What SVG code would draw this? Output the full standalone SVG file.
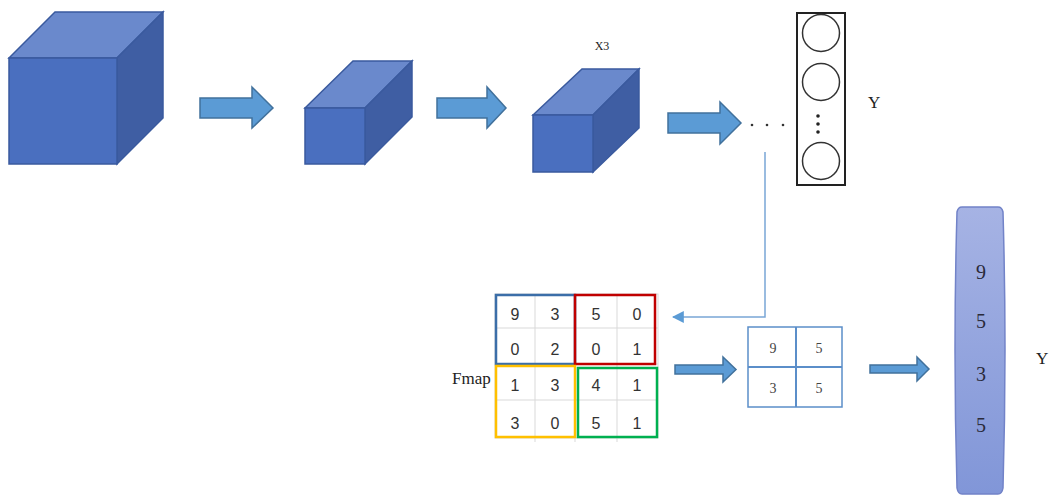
<svg xmlns="http://www.w3.org/2000/svg" width="1051" height="496" viewBox="0 0 1051 496">
<defs>
<style>
.front{fill:#4a6fbf;stroke:#3a5a9e;stroke-width:1.5}
.top{fill:#6a89cc;stroke:#3a5a9e;stroke-width:1.5}
.side{fill:#3f5ea3;stroke:#3a5a9e;stroke-width:1.5}
.arrow{fill:#5b9bd5;stroke:#41719c;stroke-width:1.5}
.serif{font-family:"Liberation Serif","Times New Roman",serif;fill:#222}
.num{font-family:"Liberation Sans",Arial,sans-serif;font-size:16px;fill:#333;text-anchor:middle}
.grid{stroke:#d9d9d9;stroke-width:1;fill:none}
.small{font-family:"Liberation Serif",serif;font-size:14px;fill:#444;text-anchor:middle}
.pillnum{font-family:"Liberation Serif",serif;font-size:20px;fill:#2a2a3a;text-anchor:middle}
</style>
<linearGradient id="pillg" x1="0" y1="0" x2="0" y2="1">
<stop offset="0" stop-color="#a6b3e4"/>
<stop offset="1" stop-color="#8196d8"/>
</linearGradient>
<marker id="ah" viewBox="0 0 10 10" refX="9" refY="5" markerWidth="12" markerHeight="12" markerUnits="userSpaceOnUse" orient="auto">
<path d="M0,0 L10,5 L0,10 z" fill="#5b9bd5"/>
</marker>
</defs>

<g id="cube1">
<polygon class="top" points="9,58 55,12 163,12 117,58"/>
<polygon class="side" points="117,58 163,12 163,118 117,164"/>
<rect class="front" x="9" y="58" width="108" height="106"/>
</g>

<g id="cube2">
<polygon class="top" points="305,108 353,61 412,61 365,108"/>
<polygon class="side" points="365,108 412,61 412,117 365,164"/>
<rect class="front" x="305" y="108" width="60" height="56"/>
</g>

<g id="cube3">
<polygon class="top" points="533,115 582,69 639,69 593,115"/>
<polygon class="side" points="593,115 639,69 639,128 593,172"/>
<rect class="front" x="533" y="115" width="60" height="57"/>
<text class="serif" x="602" y="50" font-size="12" text-anchor="middle">X3</text>
</g>

<g id="output-layer">
<rect x="797" y="13" width="48" height="172" fill="#fff" stroke="#222" stroke-width="2"/>
<circle cx="821" cy="33" r="18.5" fill="#fff" stroke="#333" stroke-width="1.5"/>
<circle cx="821" cy="82" r="18.5" fill="#fff" stroke="#333" stroke-width="1.5"/>
<circle cx="821" cy="161" r="18.5" fill="#fff" stroke="#333" stroke-width="1.5"/>
<circle cx="818" cy="116" r="1.8" fill="#222"/>
<circle cx="818" cy="124" r="1.8" fill="#222"/>
<circle cx="818" cy="132" r="1.8" fill="#222"/>
<text class="serif" x="868" y="108" font-size="17">Y</text>
</g>

<g id="ellipsis">
<circle cx="752" cy="125" r="1.3" fill="#333"/>
<circle cx="767" cy="125" r="1.3" fill="#333"/>
<circle cx="783" cy="125" r="1.3" fill="#333"/>
</g>

<g id="fmap">
<text class="serif" x="452" y="384" font-size="17">Fmap</text>
<g class="grid">
<rect x="495" y="294" width="163" height="144"/>
<line x1="535" y1="294" x2="535" y2="442"/>
<line x1="575" y1="294" x2="575" y2="442"/>
<line x1="617" y1="294" x2="617" y2="442"/>
<line x1="495" y1="328" x2="658" y2="328"/>
<line x1="495" y1="364" x2="658" y2="364"/>
<line x1="495" y1="400" x2="658" y2="400"/>
</g>
<rect x="496" y="295" width="79" height="69" fill="none" stroke="#3b6ea8" stroke-width="2.5"/>
<rect x="575" y="295" width="80" height="69" fill="none" stroke="#c00000" stroke-width="2.5"/>
<rect x="496" y="366" width="79" height="71" fill="none" stroke="#ffc000" stroke-width="2.5"/>
<rect x="578" y="368" width="79" height="69" fill="none" stroke="#00b050" stroke-width="2.5"/>
<text class="num" x="515" y="320">9</text>
<text class="num" x="555" y="320">3</text>
<text class="num" x="596" y="320">5</text>
<text class="num" x="637" y="320">0</text>
<text class="num" x="515" y="355">0</text>
<text class="num" x="555" y="355">2</text>
<text class="num" x="596" y="355">0</text>
<text class="num" x="637" y="355">1</text>
<text class="num" x="515" y="391">1</text>
<text class="num" x="555" y="391">3</text>
<text class="num" x="596" y="391">4</text>
<text class="num" x="637" y="391">1</text>
<text class="num" x="515" y="429">3</text>
<text class="num" x="555" y="429">0</text>
<text class="num" x="596" y="429">5</text>
<text class="num" x="637" y="429">1</text>
</g>

<g id="pooled">
<rect x="748" y="327" width="94" height="80" fill="#fff" stroke="#5b8ec9" stroke-width="1.5"/>
<line x1="796" y1="327" x2="796" y2="407" stroke="#5b8ec9" stroke-width="2"/>
<line x1="748" y1="367" x2="842" y2="367" stroke="#5b8ec9" stroke-width="2"/>
<text class="small" x="773" y="353">9</text>
<text class="small" x="819" y="353">5</text>
<text class="small" x="773" y="393">3</text>
<text class="small" x="819" y="393">5</text>
</g>

<g id="vector">
<path d="M962,207 L998,207 Q1002,207 1003,212 Q1007,350 1003,488 Q1002,494 998,494 L962,494 Q958,494 957,488 Q953,350 957,212 Q958,207 962,207 Z" fill="url(#pillg)" stroke="#7283c8" stroke-width="1.5"/>
<text class="pillnum" x="981" y="279">9</text>
<text class="pillnum" x="981" y="328">5</text>
<text class="pillnum" x="981" y="381">3</text>
<text class="pillnum" x="981" y="432">5</text>
<text class="serif" x="1036" y="364" font-size="17">Y</text>
</g>

<g id="connectors">
<polygon class="arrow" points="200,98 252,98 252,87 273,108 252,128 252,118 200,118"/>
<polygon class="arrow" points="437,98 487,98 487,87 506,108 487,128 487,118 437,118"/>
<polygon class="arrow" points="668,113 720,113 720,102 741,123 720,144 720,133 668,133"/>
<polygon class="arrow" points="675,365 723,365 723,357 736,369.5 723,382 723,374 675,374"/>
<polygon class="arrow" points="870,365 917,365 917,357 929,369 917,381 917,373 870,373"/>
<path d="M765,152 L765,317 L673,317" fill="none" stroke="#7aa6d6" stroke-width="1.5" marker-end="url(#ah)"/>
</g>
</svg>
